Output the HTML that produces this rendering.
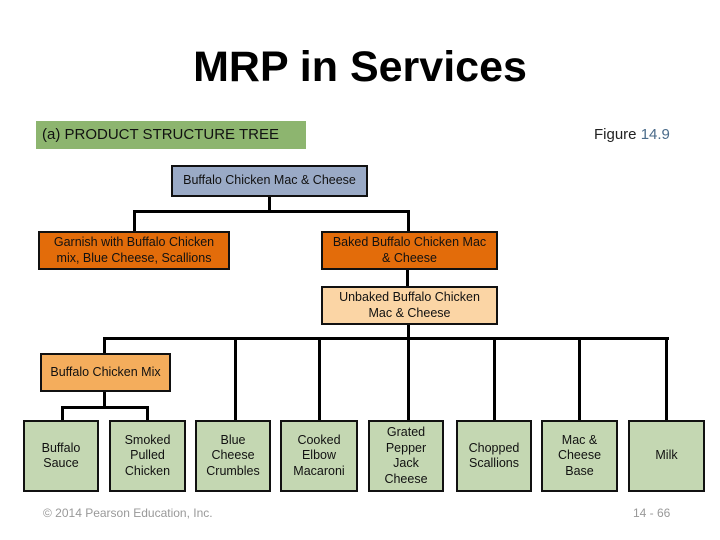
<!DOCTYPE html>
<html><head><style>
body{margin:0;width:720px;height:540px;background:#fff;position:relative;overflow:hidden;font-family:"Liberation Sans",sans-serif;}
.a{position:absolute;box-sizing:border-box;}
.b{position:absolute;box-sizing:border-box;border:2.5px solid #111;display:flex;align-items:center;justify-content:center;text-align:center;font-size:12.5px;line-height:15.5px;color:#111;}
.h{position:absolute;background:#000;height:3px;}
.v{position:absolute;background:#000;width:3px;}
.g{background:#c4d7b2;}
</style></head><body>
<div class="a" style="left:0;top:43px;width:720px;text-align:center;font-weight:bold;font-size:43px;">MRP in Services</div>
<div class="a" style="left:36px;top:121px;width:270px;height:28px;background:#8db56f;font-size:15px;line-height:28px;padding-left:6px;color:#111;">(a) PRODUCT STRUCTURE TREE</div>
<div class="a" style="left:594px;top:126px;font-size:15px;color:#222;">Figure <span style="color:#4a6b8a">14.9</span></div>

<div class="b" style="left:171px;top:165px;width:197px;height:32px;background:#9aaac6;">Buffalo Chicken Mac &amp; Cheese</div>
<div class="v" style="left:268px;top:197px;height:15px;"></div>
<div class="h" style="left:133px;top:210px;width:277px;"></div>
<div class="v" style="left:133px;top:210px;height:21px;"></div>
<div class="v" style="left:407px;top:210px;height:21px;"></div>
<div class="b" style="left:38px;top:231px;width:192px;height:39px;background:#e36c0a;">Garnish with Buffalo Chicken<br>mix, Blue Cheese, Scallions</div>
<div class="b" style="left:321px;top:231px;width:177px;height:39px;background:#e36c0a;">Baked Buffalo Chicken Mac<br>&amp; Cheese</div>
<div class="v" style="left:406px;top:270px;height:16px;"></div>
<div class="b" style="left:321px;top:286px;width:177px;height:39px;background:#fbd5a5;">Unbaked Buffalo Chicken<br>Mac &amp; Cheese</div>
<div class="v" style="left:407px;top:325px;height:14px;"></div>
<div class="h" style="left:103px;top:337px;width:566px;"></div>
<div class="v" style="left:103px;top:337px;height:17px;"></div>
<div class="v" style="left:234px;top:337px;height:84px;"></div>
<div class="v" style="left:318px;top:337px;height:84px;"></div>
<div class="v" style="left:407px;top:337px;height:84px;"></div>
<div class="v" style="left:493px;top:337px;height:84px;"></div>
<div class="v" style="left:578px;top:337px;height:84px;"></div>
<div class="v" style="left:665px;top:337px;height:84px;"></div>
<div class="b" style="left:40px;top:353px;width:131px;height:39px;background:#f4ad5c;">Buffalo Chicken Mix</div>
<div class="v" style="left:103px;top:392px;height:16px;"></div>
<div class="h" style="left:61px;top:406px;width:88px;"></div>
<div class="v" style="left:61px;top:406px;height:15px;"></div>
<div class="v" style="left:146px;top:406px;height:15px;"></div>

<div class="b g" style="left:23px;top:420px;width:76px;height:72px;">Buffalo<br>Sauce</div>
<div class="b g" style="left:109px;top:420px;width:77px;height:72px;">Smoked<br>Pulled<br>Chicken</div>
<div class="b g" style="left:195px;top:420px;width:76px;height:72px;">Blue<br>Cheese<br>Crumbles</div>
<div class="b g" style="left:280px;top:420px;width:78px;height:72px;">Cooked<br>Elbow<br>Macaroni</div>
<div class="b g" style="left:368px;top:420px;width:76px;height:72px;">Grated<br>Pepper<br>Jack<br>Cheese</div>
<div class="b g" style="left:456px;top:420px;width:76px;height:72px;">Chopped<br>Scallions</div>
<div class="b g" style="left:541px;top:420px;width:77px;height:72px;">Mac &amp;<br>Cheese<br>Base</div>
<div class="b g" style="left:628px;top:420px;width:77px;height:72px;">Milk</div>

<div class="a" style="left:43px;top:506px;font-size:12px;color:#999;">© 2014 Pearson Education, Inc.</div>
<div class="a" style="left:633px;top:506px;font-size:12px;color:#999;">14 - 66</div>
</body></html>
